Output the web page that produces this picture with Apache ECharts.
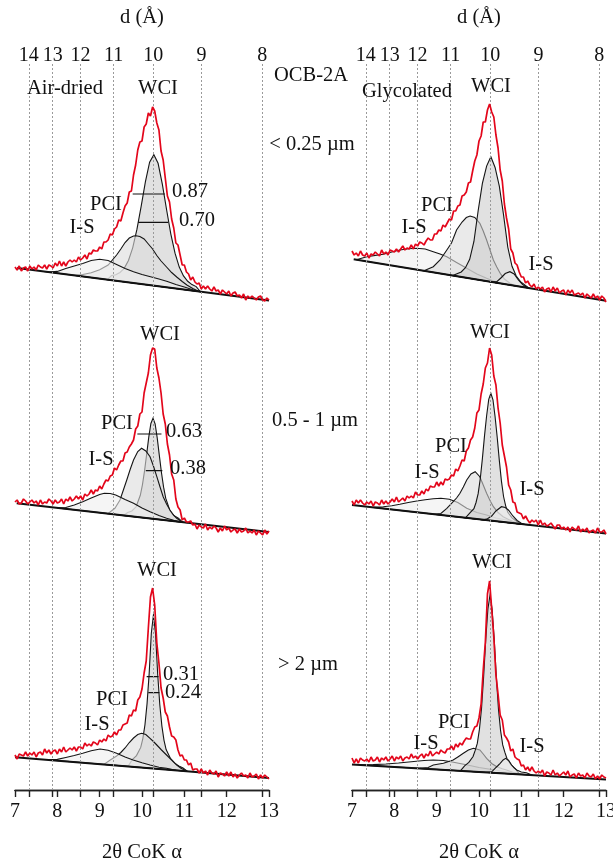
<!DOCTYPE html>
<html><head><meta charset="utf-8">
<script src="https://cdn.jsdelivr.net/npm/echarts@6/dist/echarts.min.js"></script>
<style>html,body{margin:0;padding:0;background:#fff}#c{width:613px;height:866px}</style>
</head><body><div id="c"></div>
<script>
// ---------- data ----------
const twoTheta = [7.00,7.05,7.10,7.15,7.20,7.25,7.30,7.35,7.40,7.45,
7.50,7.55,7.60,7.65,7.70,7.75,7.80,7.85,7.90,7.95,
8.00,8.05,8.10,8.15,8.20,8.25,8.30,8.35,8.40,8.45,
8.50,8.55,8.60,8.65,8.70,8.75,8.80,8.85,8.90,8.95,
9.00,9.05,9.10,9.15,9.20,9.25,9.30,9.35,9.40,9.45,
9.50,9.55,9.60,9.65,9.70,9.75,9.80,9.85,9.90,9.95,
10.00,10.05,10.10,10.15,10.20,10.25,10.30,10.35,10.40,10.45,
10.50,10.55,10.60,10.65,10.70,10.75,10.80,10.85,10.90,10.95,
11.00,11.05,11.10,11.15,11.20,11.25,11.30,11.35,11.40,11.45,
11.50,11.55,11.60,11.65,11.70,11.75,11.80,11.85,11.90,11.95,
12.00,12.05,12.10,12.15,12.20,12.25,12.30,12.35,12.40,12.45,
12.50,12.55,12.60,12.65,12.70,12.75,12.80,12.85,12.90,12.95,
13.00];
const dTicks = [14,13,12,11,10,9,8];
const xTicks = [7,8,9,10,11,12,13];
const LAMBDA_COKA = 1.789;

// Air-dried (left column)
const redL1 = [43,40,44,39,42,43,39,44,41,43, 40,45,43,42,45,41,45,44,42,47, 44,49,44,48,44,48,50,48,50,48,
 53,50,52,55,51,57,56,60,59,59, 63,61,68,68,70,76,75,81,83,90, 89,97,104,107,118,119,135,145,160,168,
 169,183,186,197,194,203,199,187,180,159, 150,132,114,108,91,82,67,65,55,45, 45,38,36,30,33,28,26,27,21,24,
 21,24,21,19,23,19,20,16,20,18, 16,19,14,17,18,14,15,12,16,10, 14,12,14,12,10,13,14,10,9,12, 10];
const redL2 = [48,50,46,47,51,49,46,48,50,47, 49,45,50,46,48,47,51,49,46,50, 47,48,51,46,51,49,53,49,51,54,
 51,54,50,56,54,56,60,56,60,59, 64,61,66,70,69,74,75,82,80,85, 89,89,97,98,103,106,110,121,124,136,
 138,157,167,177,195,202,201,182,172,157, 136,126,106,95,76,70,51,43,40,30, 32,28,28,29,25,26,21,25,23,22,
 26,20,23,21,24,22,18,22,19,24, 20,22,18,20,21,17,21,18,19,22, 17,19,17,20,15,19,17,15,20,16, 19];
const redL3 = [35,31,36,35,34,38,34,37,35,38, 33,37,38,35,41,37,40,36,39,40, 36,41,38,43,38,40,42,40,43,39,
 43,43,41,47,44,46,44,48,47,45, 50,48,51,49,55,53,54,58,55,60, 60,65,66,67,75,74,80,79,90,93,
 101,117,129,162,193,202,185,147,127,102, 92,78,74,63,54,53,50,40,34,35, 30,30,25,27,20,21,21,17,21,17,
 19,15,20,17,16,19,13,17,16,14, 18,14,18,13,16,12,15,17,14,15, 12,17,13,14,16,11,15,12,15,13, 11];
// Glycolated (right column)
const redR1 = [59,55,57,54,59,55,54,57,52,56, 55,58,56,54,60,56,58,55,60,59, 58,61,58,61,64,60,62,61,65,61,
 66,64,68,67,65,69,72,70,70,76, 76,80,79,85,83,87,91,90,99,99, 104,105,114,115,118,127,128,139,149,155,
 169,174,188,188,200,206,198,193,175,162, 140,129,106,92,81,61,57,47,45,38, 33,33,27,29,25,23,26,21,23,21,
 23,18,21,22,18,23,19,22,17,19, 20,15,20,17,20,15,16,17,15,17, 12,16,14,12,16,12,14,10,14,12, 8];
const redR2 = [49,45,50,47,50,47,45,48,46,49, 44,48,47,45,50,46,49,46,48,51, 48,53,48,50,52,49,54,52,54,52,
 58,55,55,59,56,61,59,64,63,63, 68,64,68,65,71,70,71,75,74,81, 79,84,90,89,99,102,110,113,122,137,
 140,156,166,182,187,202,195,174,165,142, 127,105,94,83,65,60,48,47,38,37, 36,31,34,30,27,30,28,30,25,30,
 25,27,24,25,27,24,21,25,25,21, 23,20,23,18,23,21,20,24,18,21, 19,22,17,19,20,17,22,18,18,20, 16];
const redR3 = [32,27,31,27,32,30,29,31,28,33, 29,30,33,28,32,30,33,29,31,34, 29,33,31,34,29,32,33,31,36,32,
 34,31,34,36,32,36,34,39,34,36, 38,36,40,38,37,41,41,44,40,46, 43,47,45,49,52,51,51,58,63,64,
 72,86,120,148,196,209,181,153,115,96, 75,70,55,52,48,39,41,33,31,30, 24,25,20,23,19,23,19,17,19,17,
 20,14,18,17,15,20,15,17,14,16, 18,15,19,13,15,16,12,17,14,15, 12,17,14,13,16,11,14,11,15,13, 12];

// fitted backgrounds [2θ, intensity]
const baseL1 = [[7.05,42],[13,9.4]];
const baseL2 = [[7.04,46.7],[13,17.9]];
const baseL3 = [[7.0,32.8],[13,12.1]];
const baseR1 = [[7.04,50.7],[13,9.3]];
const baseR2 = [[7.0,45],[13,16.4]];
const baseR3 = [[7.0,25.6],[13,10.5]];

// decomposed components [2θ, intensity]
const wciL1 = [[9.18,30.3],[9.28,34.4],[9.38,35.2],[9.48,37.5],[9.58,41.7],[9.68,49.5],[9.78,62.2],[9.88,80.6],[9.98,103.7],[10.08,128.1],[10.18,147.8],[10.28,155.3],[10.38,146.7],[10.48,125.9],[10.58,100.5],[10.68,76.2],[10.78,56.8],[10.88,42.9],[10.98,34.1],[11.08,28.7],[11.18,25.4],[11.28,23.4],[11.38,18.3]];
const pciL1 = [[8.4,34.6],[8.6,35.5],[8.8,37.2],[9.0,40.3],[9.2,45],[9.4,55],[9.5,61],[9.6,67.5],[9.7,72],[9.8,74],[9.86,74.3],[9.95,73.5],[10.05,71],[10.15,66],[10.25,61],[10.35,54.5],[10.45,49],[10.58,43],[10.7,37.5],[10.82,33],[10.95,28.5],[11.06,25],[11.2,21.5],[11.35,18.4]];
const isL1 = [[7.8,37.9],[8.0,38.6],[8.2,41.5],[8.4,44],[8.6,46.5],[8.8,49.5],[9.0,50.7],[9.2,49.5],[9.4,45.5],[9.6,41.5],[9.8,38.2],[10.0,35.5],[10.2,33.2],[10.4,31],[10.6,28.5],[10.8,25.5],[11.0,23],[11.2,20.3],[11.4,18.2]];

const wciL2 = [[9.56,34.4],[9.66,37.5],[9.76,39],[9.86,43.2],[9.96,54.7],[10.01,65.2],[10.06,79.1],[10.11,95.8],[10.16,112.8],[10.21,126.5],[10.26,131.7],[10.31,126],[10.36,111.9],[10.41,94.4],[10.46,77.2],[10.51,62.8],[10.56,51.8],[10.66,39.4],[10.76,34.2],[10.86,31.8],[10.96,27.7]];
const pciL2 = [[9.0,37.2],[9.2,36.5],[9.36,41.7],[9.48,50],[9.56,60],[9.64,70],[9.72,80.5],[9.8,90],[9.9,98.5],[9.99,101.7],[10.09,99],[10.19,93.3],[10.27,84],[10.35,73.3],[10.43,62.5],[10.5,53.3],[10.58,46],[10.66,40],[10.74,35],[10.82,31.7],[10.92,28.8],[11.0,27.6]];
const isL2 = [[8.0,42.1],[8.2,42.5],[8.4,45],[8.6,48.3],[8.8,52],[9.0,55.5],[9.11,56.7],[9.25,56.5],[9.38,55],[9.6,50.5],[9.8,46.7],[10.0,42],[10.19,38.3],[10.4,34.5],[10.58,31.7],[10.75,29.7],[10.9,28.2]];

const wciL3 = [[9.67,23.6],[9.77,30.3],[9.87,34.4],[9.97,42.6],[10.02,51.4],[10.07,65.2],[10.12,86.6],[10.17,116.9],[10.22,156.7],[10.27,175],[10.32,156.4],[10.37,116.2],[10.42,85.5],[10.47,63.9],[10.52,49.7],[10.57,40.5],[10.67,31.7],[10.77,26.8],[10.87,24.1],[10.97,22],[11.07,18.8]];
const pciL3 = [[9.1,25.6],[9.25,30],[9.4,34],[9.5,37.5],[9.6,42],[9.7,47.5],[9.8,52],[9.9,55.5],[9.99,56.7],[10.09,55.5],[10.19,51.7],[10.27,48.5],[10.35,45],[10.45,40.5],[10.58,35],[10.7,30],[10.82,25],[10.92,21.8],[11.05,18.9]];
const isL3 = [[7.8,30.1],[8.0,30.6],[8.2,32.5],[8.4,34.5],[8.6,36.7],[8.8,39.2],[9.01,41],[9.2,39.8],[9.4,36.7],[9.6,33],[9.79,30],[10.0,27.2],[10.19,25],[10.4,22.8],[10.58,21.7],[10.8,19.8],[11.0,19]];

const isR1 = [[7.1,50.3],[7.35,53.3],[7.55,54.6],[7.74,55.7],[7.94,58],[8.13,60],[8.33,61.2],[8.53,61.7],[8.73,61],[8.92,58.3],[9.08,56],[9.24,53.3],[9.47,47.5],[9.71,41.7],[9.95,36],[10.18,31.7],[10.34,29],[10.5,26.6]];
const pciR1 = [[8.7,39.2],[8.92,43.3],[9.08,50],[9.24,60],[9.35,67],[9.47,80],[9.6,88],[9.7,92.5],[9.79,94],[9.9,92.5],[10.02,86.7],[10.1,79],[10.18,70],[10.26,60],[10.34,50],[10.42,43],[10.5,36.7],[10.6,31],[10.73,26.7],[10.85,24.2]];
const wciR1 = [[9.38,34.4],[9.48,36.2],[9.58,38],[9.68,42.3],[9.78,50.7],[9.88,68.5],[9.98,99.3],[10.08,126.6],[10.18,143.9],[10.28,153.3],[10.38,142.5],[10.48,123.8],[10.58,95.1],[10.68,62.9],[10.78,43.7],[10.88,34],[10.98,28.3],[11.08,25.1],[11.18,21.9]];
const is2R1 = [[10.3,28],[10.42,28.4],[10.53,32.5],[10.62,36.5],[10.73,38.3],[10.83,36],[10.93,30],[11.03,25.5],[11.15,22.1]];

const isR2 = [[7.5,42.6],[7.74,43.3],[7.94,44.3],[8.13,45.7],[8.33,47.5],[8.53,49],[8.73,50.3],[8.92,51.3],[9.1,51.7],[9.3,50.8],[9.5,47.5],[9.71,41.7],[9.95,37.5],[10.18,35],[10.4,32],[10.65,30],[10.9,26.4]];
const pciR2 = [[8.95,35.7],[9.1,36.5],[9.24,41.7],[9.39,48.3],[9.47,52],[9.55,56.7],[9.63,63],[9.71,70],[9.81,76],[9.91,78.3],[10.02,73.3],[10.1,65],[10.18,56.7],[10.26,49.5],[10.34,43.3],[10.45,37.5],[10.57,33.3],[10.7,30.5],[10.85,27.8],[10.95,26.1]];
const wciR2 = [[9.68,32.2],[9.78,36.8],[9.88,41.4],[9.93,47.5],[9.98,56.3],[10.03,71.2],[10.08,91.4],[10.13,114.1],[10.18,134.2],[10.23,150.6],[10.28,156.7],[10.33,150.2],[10.38,133.3],[10.43,112.7],[10.48,89.6],[10.53,68.9],[10.58,53.5],[10.63,44.2],[10.68,37.7],[10.78,32.1],[10.88,29],[10.98,26]];
const is2R2 = [[10.1,30.2],[10.2,31.2],[10.3,34],[10.4,39],[10.53,43.3],[10.62,42.5],[10.7,39.8],[10.8,34],[10.9,29.5],[11.0,26.8],[11.1,25.4]];

const isR3 = [[7.2,25.1],[7.5,25.4],[7.8,26],[8.1,27],[8.4,28.3],[8.7,29.5],[8.92,30],[9.16,29.5],[9.4,27.8],[9.7,25.2],[10.0,22.5],[10.3,20.5],[10.6,18.5],[10.9,16.8],[11.2,15]];
const pciR3 = [[8.6,21.6],[8.8,22.5],[8.92,25],[9.16,26.7],[9.39,30],[9.51,33.3],[9.63,36.7],[9.75,40],[9.87,41.7],[10.02,40],[10.1,36],[10.18,31.7],[10.3,26.5],[10.42,23.3],[10.55,21.3],[10.65,20],[10.8,17.8],[10.95,15.7]];
const wciR3 = [[9.56,19.2],[9.66,24.2],[9.76,27.6],[9.86,33.5],[9.91,39.6],[9.96,46.6],[10.01,60.6],[10.06,81.8],[10.11,113.7],[10.16,150.9],[10.21,180.9],[10.26,195],[10.31,180.7],[10.36,150.4],[10.41,112.9],[10.46,80.8],[10.51,59.4],[10.56,45.1],[10.61,37.8],[10.66,31.5],[10.76,25.1],[10.86,21.2],[10.96,15.6]];
const is2R3 = [[10.2,17.6],[10.3,18.2],[10.38,21.7],[10.45,24.5],[10.5,26.7],[10.57,30],[10.63,31.7],[10.7,29.5],[10.77,25],[10.83,22.2],[10.89,20],[11.0,18],[11.12,17.2],[11.25,14.9]];

// FWHM bars [2θ start, 2θ end, intensity]
const barsL1 = [[9.78,10.54,116],[9.91,10.62,87.7]];
const barsL2 = [[9.89,10.46,116],[10.09,10.48,79.3]];
const barsL3 = [[10.11,10.39,113.3],[10.15,10.41,97.3]];

// ---------- chart ----------
const FONT = '"Liberation Serif", "Times New Roman", serif';
const TXT = '#111';
const FS = 20.5;
const FS_TICK = 20;
const dPos = dTicks.map(d => 2 * Math.asin(LAMBDA_COKA / (2 * d)) * 180 / Math.PI);

const FILL = {
  wci: 'rgba(205,205,205,0.6)',
  pci: 'rgba(220,220,220,0.6)',
  is:  'rgba(239,239,239,0.6)'
};

const colLeft = [15, 352];
const colW = 254;
const rowTop = [70, 310, 550];
const rowH = 240;

const panels = [
  {col:0,row:0, red:redL1, base:baseL1, comps:[[wciL1,'wci'],[pciL1,'pci'],[isL1,'is']], bars:barsL1},
  {col:0,row:1, red:redL2, base:baseL2, comps:[[wciL2,'wci'],[pciL2,'pci'],[isL2,'is']], bars:barsL2},
  {col:0,row:2, red:redL3, base:baseL3, comps:[[wciL3,'wci'],[pciL3,'pci'],[isL3,'is']], bars:barsL3},
  {col:1,row:0, red:redR1, base:baseR1, comps:[[isR1,'is'],[pciR1,'pci'],[wciR1,'wci'],[is2R1,'is']], bars:[]},
  {col:1,row:1, red:redR2, base:baseR2, comps:[[isR2,'is'],[pciR2,'pci'],[wciR2,'wci'],[is2R2,'is']], bars:[]},
  {col:1,row:2, red:redR3, base:baseR3, comps:[[isR3,'is'],[pciR3,'pci'],[wciR3,'wci'],[is2R3,'is']], bars:[]}
];

const grid = [], xAxis = [], yAxis = [], series = [];
const axisText = {fontSize: FS, fontFamily: FONT, color: TXT};
const tickText = {fontSize: FS_TICK, fontFamily: FONT, color: TXT};

// frame grids (axes)
for (let c = 0; c < 2; c++) {
  grid.push({left: colLeft[c], top: 37, width: colW, height: 753, outerBoundsMode: 'none', containLabel: false});
  const gi = grid.length - 1;
  xAxis.push({
    gridIndex: gi, type: 'value', position: 'top', min: 7, max: 13,
    axisLine: {show: true, lineStyle: {color: '#222', width: 1.4}},
    axisTick: {show: true, inside: true, length: 7, customValues: dPos, lineStyle: {color: '#222', width: 1.4}},
    axisLabel: {show: true, inside: true, margin: 9, customValues: dPos, ...tickText,
      formatter: v => { const i = dPos.findIndex(p => Math.abs(p - v) < 1e-6); return i >= 0 ? String(dTicks[i]) : ''; }},
    splitLine: {show: false},
    name: 'd (Å)', nameLocation: 'middle', nameGap: 9, nameTextStyle: axisText
  });
  xAxis.push({
    gridIndex: gi, type: 'value', position: 'bottom', min: 7, max: 13, interval: 1,
    axisLine: {show: true, lineStyle: {color: '#222', width: 1.4}},
    axisTick: {show: true, inside: false, length: 7, lineStyle: {color: '#222', width: 1.4}},
    axisLabel: {show: true, margin: 12, ...tickText, formatter: v => xTicks.includes(v) ? String(v) : ''},
    splitLine: {show: false},
    name: '2θ CoK α', nameLocation: 'middle', nameGap: 52, nameTextStyle: axisText
  });
  yAxis.push({gridIndex: gi, type: 'value', min: 0, max: 1, show: false});
}
// dotted d-spacing guide lines
for (let c = 0; c < 2; c++) {
  grid.push({left: colLeft[c], top: 64, width: colW, height: 726, outerBoundsMode: 'none'});
  const gi = grid.length - 1;
  xAxis.push({gridIndex: gi, type: 'value', min: 7, max: 13, show: false});
  yAxis.push({gridIndex: gi, type: 'value', min: 0, max: 1, show: false});
  series.push({
    type: 'line', xAxisIndex: xAxis.length - 1, yAxisIndex: yAxis.length - 1,
    data: [[7, 0]], showSymbol: false, lineStyle: {opacity: 0}, silent: true, z: 1,
    markLine: {symbol: ['none', 'none'], silent: true, label: {show: false},
      lineStyle: {type: [2, 2], color: '#9a9a9a', width: 1},
      data: dPos.map(v => ({xAxis: v}))}
  });
}
// panels
panels.forEach(p => {
  grid.push({left: colLeft[p.col], top: rowTop[p.row], width: colW, height: rowH, outerBoundsMode: 'none'});
  const gi = grid.length - 1;
  xAxis.push({gridIndex: gi, type: 'value', min: 7, max: 13, show: false});
  yAxis.push({gridIndex: gi, type: 'value', min: 0, max: 240, show: false});
  const xi = xAxis.length - 1, yi = yAxis.length - 1;
  p.comps.forEach(([pts, kind]) => {
    series.push({
      type: 'custom', xAxisIndex: xi, yAxisIndex: yi, data: [pts[0]], silent: true, z: 3,
      renderItem: (params, api) => ({
        type: 'polygon',
        shape: {points: pts.map(q => api.coord(q))},
        style: {fill: FILL[kind], stroke: '#151515', lineWidth: 1.1}
      })
    });
  });
  series.push({type: 'line', xAxisIndex: xi, yAxisIndex: yi, data: p.base, showSymbol: false, symbol: 'none',
    lineStyle: {color: '#111', width: 2}, silent: true, z: 4});
  p.bars.forEach(b => {
    series.push({type: 'line', xAxisIndex: xi, yAxisIndex: yi, data: [[b[0], b[2]], [b[1], b[2]]],
      showSymbol: false, symbol: 'none', lineStyle: {color: '#111', width: 1.2}, silent: true, z: 4});
  });
  series.push({type: 'line', xAxisIndex: xi, yAxisIndex: yi,
    data: twoTheta.map((x, i) => [x, p.red[i]]), showSymbol: false, symbol: 'none',
    lineStyle: {color: '#e3061b', width: 1.7}, silent: true, z: 6});
});

const T = (text, x, y) => ({type: 'text', x, y, z: 100,
  style: {text, fontSize: FS, fontFamily: FONT, fill: TXT, align: 'center', verticalAlign: 'middle'}});

const graphic = [
  T('Air-dried', 65, 89), T('WCI', 158, 89), T('OCB-2A', 311, 76), T('< 0.25 µm', 312, 145),
  T('Glycolated', 407, 92), T('WCI', 491, 87),
  T('PCI', 106, 205), T('I-S', 82, 228), T('0.87', 190, 192), T('0.70', 197, 221),
  T('PCI', 437, 206), T('I-S', 414, 228), T('I-S', 541, 265),
  T('WCI', 160, 335), T('PCI', 117, 424), T('I-S', 101, 460), T('0.63', 184, 432), T('0.38', 188, 469),
  T('0.5 - 1 µm', 315, 421),
  T('WCI', 490, 333), T('PCI', 451, 447), T('I-S', 427, 473), T('I-S', 532, 490),
  T('WCI', 157, 571), T('PCI', 112, 700), T('I-S', 97, 725), T('0.31', 181, 675), T('0.24', 183, 693),
  T('> 2 µm', 308, 665),
  T('WCI', 492, 563), T('PCI', 454, 723), T('I-S', 426, 744), T('I-S', 532, 747)
];

const chart = echarts.init(document.getElementById('c'), null, {renderer: 'canvas'});
chart.setOption({
  animation: false,
  backgroundColor: '#fff',
  grid, xAxis, yAxis, series, graphic
});
</script>
</body></html>
